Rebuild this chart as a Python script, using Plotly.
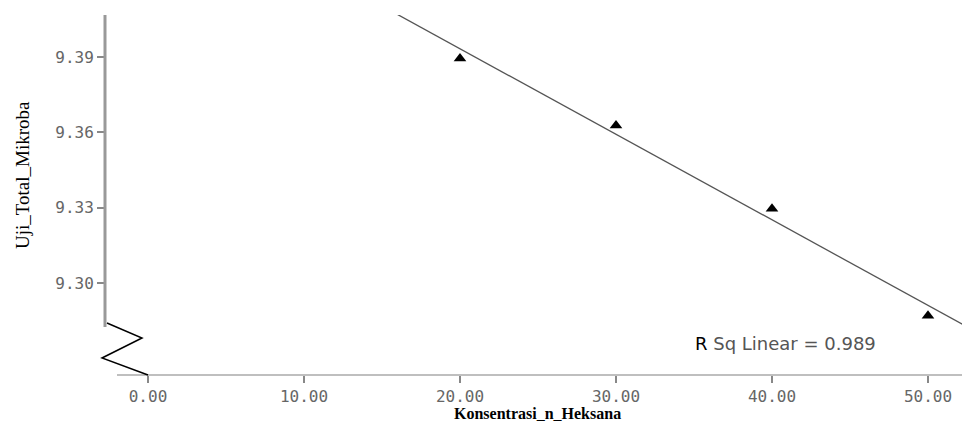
import numpy as np
import plotly.graph_objects as go

# data
konsentrasi = [20, 30, 40, 50]
uji_total = [9.3895, 9.3628, 9.3296, 9.2869]
x_ticks = [0, 10, 20, 30, 40, 50]
x_tick_labels = ["0.00", "10.00", "20.00", "30.00", "40.00", "50.00"]
y_ticks = [9.30, 9.33, 9.36, 9.39]
y_tick_labels = ["9.30", "9.33", "9.36", "9.39"]
r2_text = "<span style='color:black'>R</span> Sq Linear = 0.989"

W, H = 962, 421
L, R, T, B = 100, 0, 15, 46
pw, ph = W - L - R, H - T - B

x_range = [-3.077, 52.18]
y_range = [9.2633, 9.4068]

slope, intercept = np.polyfit(konsentrasi, uji_total, 1)
fx = np.array([10, 60])
fy = slope * fx + intercept

fig = go.Figure()
fig.add_trace(go.Scatter(x=fx, y=fy, mode="lines",
                         line=dict(color="#555555", width=1.3),
                         hoverinfo="skip", showlegend=False))
fig.add_trace(go.Scatter(x=konsentrasi, y=uji_total, mode="markers",
                         marker=dict(symbol="triangle-up", size=11, color="black"),
                         showlegend=False))

tick_font = dict(family="DejaVu Sans Mono", size=16, color="#666666")


def px2paper_x(px):
    return (px - L) / pw


def px2paper_y(py):
    return (H - B - py) / ph


yline_x = px2paper_x(105)
fig.update_layout(
    width=W, height=H,
    margin=dict(l=L, r=R, t=T, b=B),
    paper_bgcolor="white", plot_bgcolor="white",
    xaxis=dict(range=x_range, domain=[0, 1], showgrid=False, zeroline=False,
               showline=False, ticks="outside", ticklen=7, tickwidth=2,
               tickcolor="#888888", tickvals=x_ticks, ticktext=x_tick_labels,
               tickfont=tick_font, fixedrange=True),
    yaxis=dict(range=y_range, showgrid=False, zeroline=False, showline=False,
               anchor="free", position=yline_x,
               ticks="outside", ticklen=8, tickwidth=2, tickcolor="#888888",
               tickvals=y_ticks, ticktext=y_tick_labels, tickfont=tick_font,
               fixedrange=True),
)

# y axis line (broken axis)
fig.add_shape(type="line", xref="paper", yref="paper",
              x0=yline_x, x1=yline_x, y0=px2paper_y(327), y1=1,
              line=dict(color="#999999", width=3))
# x axis line
fig.add_shape(type="line", xref="paper", yref="paper",
              x0=px2paper_x(117), x1=1, y0=0, y1=0,
              line=dict(color="#aaaaaa", width=1.5))
# zigzag break
zz = [(107, 323), (142, 338), (102, 358), (148, 375)]
path = "M " + " L ".join(f"{px2paper_x(a):.5f},{px2paper_y(b):.5f}" for a, b in zz)
fig.add_shape(type="path", xref="paper", yref="paper", path=path,
              line=dict(color="black", width=1.5))

fig.add_annotation(xref="paper", yref="paper", x=px2paper_x(693), y=px2paper_y(343),
                   xanchor="left", yanchor="middle", showarrow=False,
                   text=r2_text,
                   font=dict(family="DejaVu Sans", size=18, color="#555555"))
fig.add_annotation(xref="paper", yref="paper", x=px2paper_x(537), y=px2paper_y(403),
                   xanchor="center", yanchor="top", showarrow=False,
                   text="<b>Konsentrasi_n_Heksana</b>",
                   font=dict(family="Liberation Serif", size=16, color="black"))
fig.add_annotation(xref="paper", yref="paper", x=px2paper_x(22), y=px2paper_y(175),
                   xanchor="center", yanchor="middle", showarrow=False, textangle=-90,
                   text="Uji_Total_Mikroba",
                   font=dict(family="Liberation Serif", size=19, color="black"))

fig.write_html("out.html")
